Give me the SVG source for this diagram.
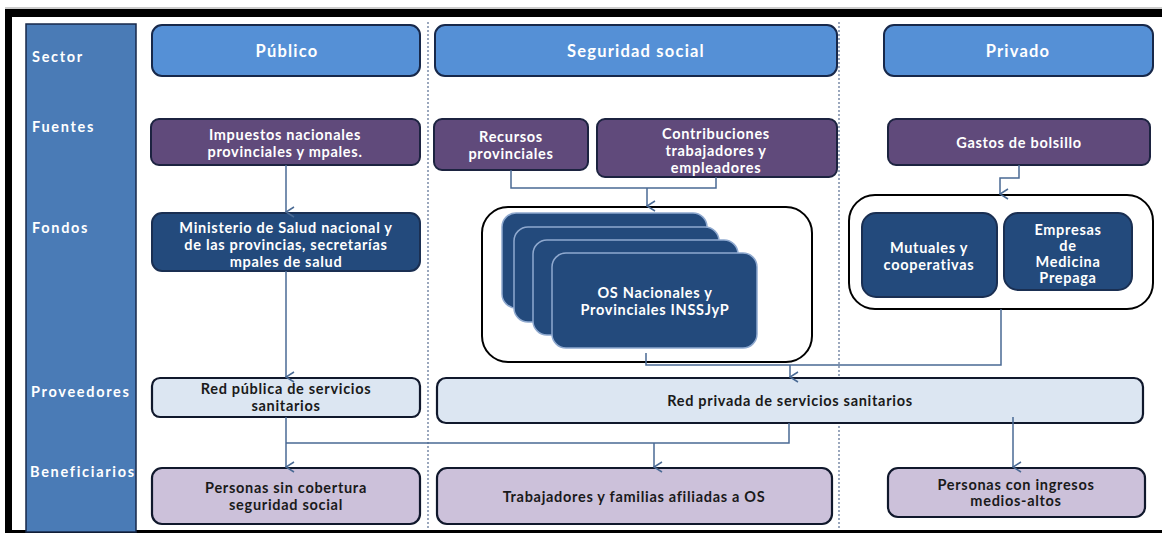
<svg xmlns="http://www.w3.org/2000/svg" width="1162" height="533" viewBox="0 0 1162 533">
  <style>
    text { font-family: Lato, "Liberation Sans", sans-serif; text-anchor: middle; font-weight: bold; }
    .side { fill: #ffffff; font-size: 14.5px; letter-spacing: 1.7px; text-anchor: start; }
    .hdr { fill: #5590d6; stroke: #17284a; stroke-width: 2; }
    .hdrt { fill: #ffffff; font-size: 16.5px; letter-spacing: 1.2px; }
    .src { fill: #604a7b; stroke: #1c2340; stroke-width: 2; }
    .fund { fill: #234a7c; stroke: #1a2f52; stroke-width: 2; }
    .os { fill: #234a7c; stroke: #8fa9cf; stroke-width: 1.5; }
    .wt { fill: #ffffff; font-size: 14.5px; letter-spacing: 0.7px; }
    .prov { fill: #dce6f2; stroke: #10182c; stroke-width: 2.2; }
    .ben { fill: #ccc1da; stroke: #10182c; stroke-width: 2.2; }
    .dt { fill: #1a1a1a; font-size: 14.5px; letter-spacing: 0.7px; }
    .cont { fill: #ffffff; stroke: #000000; stroke-width: 2; }
    .ln { fill: none; stroke: #4a6a94; stroke-width: 1.5; }
    .div { stroke: #7a8aa8; stroke-width: 1.5; stroke-dasharray: 2 2; }
  </style>
  <defs>
    <marker id="arr" viewBox="0 0 12 10" refX="6" refY="9" markerWidth="12" markerHeight="10" markerUnits="userSpaceOnUse" orient="auto-start-reverse">
      <path d="M1,1 L6,9 L11,1" fill="none" stroke="#4a6a94" stroke-width="1.5"/>
    </marker>
  </defs>

  <rect x="0" y="0" width="1162" height="533" fill="#ffffff"/>

  <!-- page frame -->
  <g id="frame">
    <line x1="5" y1="8" x2="1162" y2="8" stroke="#999999" stroke-width="1"/>
    <rect x="5" y="9" width="1157" height="8" fill="#000000"/>
    <rect x="5" y="9" width="7" height="524" fill="#000000"/>
    <rect x="5" y="530" width="1157" height="3" fill="#000000"/>
  </g>

  <!-- column dividers -->
  <g id="dividers">
    <line class="div" x1="428" y1="22" x2="428" y2="530"/>
    <line class="div" x1="839" y1="22" x2="839" y2="530"/>
  </g>

  <!-- row labels -->
  <g id="sidebar">
    <rect x="26" y="24" width="110" height="508" fill="#4a7bb6" stroke="#17284a" stroke-width="1.5"/>
    <text class="side" x="32" y="62">Sector</text>
    <text class="side" x="32" y="132">Fuentes</text>
    <text class="side" x="32" y="233">Fondos</text>
    <text class="side" x="31" y="397">Proveedores</text>
    <text class="side" x="30" y="477">Beneficiarios</text>
  </g>

  <!-- sector headers -->
  <g id="publico">
    <rect class="hdr" x="152" y="25" width="268" height="51" rx="10"/>
    <text class="hdrt" x="287" y="57">Público</text>
  </g>
  <g id="seguridad-social">
    <rect class="hdr" x="435" y="25" width="402" height="51" rx="10"/>
    <text class="hdrt" x="636" y="57">Seguridad social</text>
  </g>
  <g id="privado">
    <rect class="hdr" x="884" y="25" width="269" height="51" rx="10"/>
    <text class="hdrt" x="1018" y="57">Privado</text>
  </g>

  <!-- sources -->
  <g id="impuestos">
    <rect class="src" x="151" y="119" width="269" height="46" rx="8"/>
    <text class="wt" x="285" y="140">Impuestos nacionales</text>
    <text class="wt" x="285" y="157">provinciales y mpales.</text>
  </g>
  <g id="recursos">
    <rect class="src" x="434" y="119" width="154" height="51" rx="8"/>
    <text class="wt" x="511" y="142">Recursos</text>
    <text class="wt" x="511" y="159">provinciales</text>
  </g>
  <g id="contribuciones">
    <rect class="src" x="597" y="119" width="240" height="58" rx="8"/>
    <text class="wt" x="716" y="139">Contribuciones</text>
    <text class="wt" x="716" y="156">trabajadores y</text>
    <text class="wt" x="716" y="173">empleadores</text>
  </g>
  <g id="gastos">
    <rect class="src" x="888" y="119" width="262" height="46" rx="8"/>
    <text class="wt" x="1019" y="148">Gastos de bolsillo</text>
  </g>

  <!-- funds -->
  <g id="ministerio">
    <rect class="fund" x="152" y="213" width="268" height="58" rx="10"/>
    <text class="wt" x="286" y="233">Ministerio de Salud nacional y</text>
    <text class="wt" x="286" y="250">de las provincias, secretarías</text>
    <text class="wt" x="286" y="267">mpales de salud</text>
  </g>
  <g id="obras-sociales">
    <rect class="cont" x="482" y="207" width="330" height="155" rx="26"/>
    <rect class="os" x="502" y="213" width="205" height="95" rx="14"/>
    <rect class="os" x="514" y="227" width="205" height="95" rx="14"/>
    <rect class="os" x="533" y="240" width="205" height="95" rx="14"/>
    <rect class="os" x="552" y="253" width="205" height="95" rx="14"/>
    <text class="wt" x="655" y="298">OS Nacionales y</text>
    <text class="wt" x="655" y="315">Provinciales INSSJyP</text>
  </g>
  <g id="privados">
    <rect class="cont" x="849" y="195" width="304" height="114" rx="26"/>
    <rect class="fund" x="862" y="213" width="135" height="84" rx="14"/>
    <text class="wt" x="929" y="253">Mutuales y</text>
    <text class="wt" x="929" y="270">cooperativas</text>
    <rect class="fund" x="1004" y="213" width="128" height="77" rx="14"/>
    <text class="wt" x="1068" y="235">Empresas</text>
    <text class="wt" x="1068" y="251">de</text>
    <text class="wt" x="1068" y="267">Medicina</text>
    <text class="wt" x="1068" y="283">Prepaga</text>
  </g>

  <!-- providers -->
  <g id="red-publica">
    <rect class="prov" x="152" y="378" width="268" height="39" rx="8"/>
    <text class="dt" x="286" y="394">Red pública de servicios</text>
    <text class="dt" x="286" y="411">sanitarios</text>
  </g>
  <g id="red-privada">
    <rect class="prov" x="437" y="378" width="706" height="45" rx="9"/>
    <text class="dt" x="790" y="406">Red  privada de servicios sanitarios</text>
  </g>

  <!-- beneficiaries -->
  <g id="sin-cobertura">
    <rect class="ben" x="152" y="468" width="268" height="56" rx="10"/>
    <text class="dt" x="286" y="493">Personas sin cobertura</text>
    <text class="dt" x="286" y="510">seguridad social</text>
  </g>
  <g id="trabajadores">
    <rect class="ben" x="437" y="468" width="395" height="56" rx="10"/>
    <text class="dt" x="634" y="502">Trabajadores y familias afiliadas a OS</text>
  </g>
  <g id="ingresos-altos">
    <rect class="ben" x="888" y="468" width="257" height="49" rx="10"/>
    <text class="dt" x="1016" y="490">Personas con ingresos</text>
    <text class="dt" x="1016" y="506">medios-altos</text>
  </g>

  <!-- connectors -->
  <g id="connectors">
    <line class="ln" x1="286" y1="165" x2="286" y2="212" marker-end="url(#arr)"/>
    <line class="ln" x1="286" y1="271" x2="286" y2="377" marker-end="url(#arr)"/>
    <polyline class="ln" points="511,170 511,188 716,188 716,177"/>
    <line class="ln" x1="647" y1="188" x2="647" y2="206" marker-end="url(#arr)"/>
    <polyline class="ln" points="1019,165 1019,178 1000,178 1000,194" marker-end="url(#arr)"/>
    <polyline class="ln" points="646,353 646,365 1001,365 1001,309"/>
    <line class="ln" x1="790" y1="365" x2="790" y2="377" marker-end="url(#arr)"/>
    <line class="ln" x1="286" y1="417" x2="286" y2="467" marker-end="url(#arr)"/>
    <polyline class="ln" points="286,443 789,443 789,423"/>
    <line class="ln" x1="654" y1="443" x2="654" y2="467" marker-end="url(#arr)"/>
    <line class="ln" x1="1013" y1="417" x2="1013" y2="467" marker-end="url(#arr)"/>
  </g>
</svg>
